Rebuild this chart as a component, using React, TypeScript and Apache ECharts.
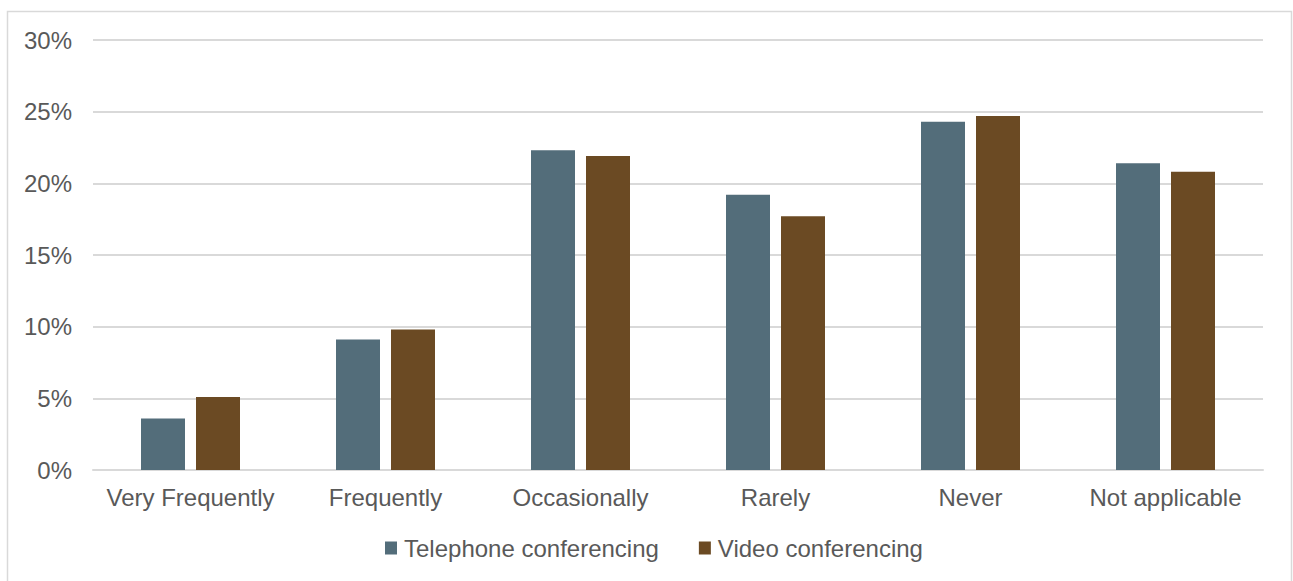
import React, { useEffect, useRef } from "react";
import * as echarts from "echarts";

const categories = ["Very Frequently", "Frequently", "Occasionally", "Rarely", "Never", "Not applicable"];
const telephone = [3.6, 9.1, 22.3, 19.2, 24.3, 21.4];
const video = [5.1, 9.8, 21.9, 17.7, 24.7, 20.8];
const seriesNames = ["Telephone conferencing", "Video conferencing"];

const FONT = "'Liberation Sans', Arial, sans-serif";
const TEXT = "#595959";

export default function App() {
  const ref = useRef<HTMLDivElement>(null);

  useEffect(() => {
    document.body.style.margin = "0";
    if (!ref.current) return;
    const chart = echarts.init(ref.current, undefined, { renderer: "svg" });
    chart.setOption({
      animation: false,
      backgroundColor: "#ffffff",
      textStyle: { fontFamily: FONT },
      graphic: [
        {
          type: "rect",
          shape: { x: 7.5, y: 11.5, width: 1284, height: 580 },
          style: { fill: "none", stroke: "#d9d9d9", lineWidth: 1.5 },
          silent: true,
        },
      ],
      grid: { left: 93, right: 30, top: 40, bottom: 111, containLabel: false },
      legend: {
        data: seriesNames,
        bottom: 16,
        left: 380,
        itemWidth: 12,
        itemHeight: 13,
        itemGap: 40,
        icon: "rect",
        textStyle: { fontSize: 24, color: TEXT, fontFamily: FONT, padding: [0, 0, 0, 2] },
      },
      xAxis: {
        type: "category",
        data: categories,
        axisLine: { lineStyle: { color: "#d9d9d9", width: 2 } },
        axisTick: { show: false },
        axisLabel: { fontSize: 24, color: TEXT, margin: 15, interval: 0, fontFamily: FONT },
      },
      yAxis: {
        type: "value",
        min: 0,
        max: 30,
        interval: 5,
        axisLine: { show: false },
        axisTick: { show: false },
        splitLine: { lineStyle: { color: "#d9d9d9", width: 2 } },
        axisLabel: { fontSize: 24, color: TEXT, margin: 21, formatter: "{value}%", fontFamily: FONT },
      },
      series: [
        {
          name: seriesNames[0],
          type: "bar",
          data: telephone,
          barWidth: 44,
          barGap: "25%",
          itemStyle: { color: "#536d7a" },
        },
        {
          name: seriesNames[1],
          type: "bar",
          data: video,
          barWidth: 44,
          itemStyle: { color: "#6b4a23" },
        },
      ],
    });
    return () => chart.dispose();
  }, []);

  return <div ref={ref} style={{ width: 1293, height: 581 }} />;
}
